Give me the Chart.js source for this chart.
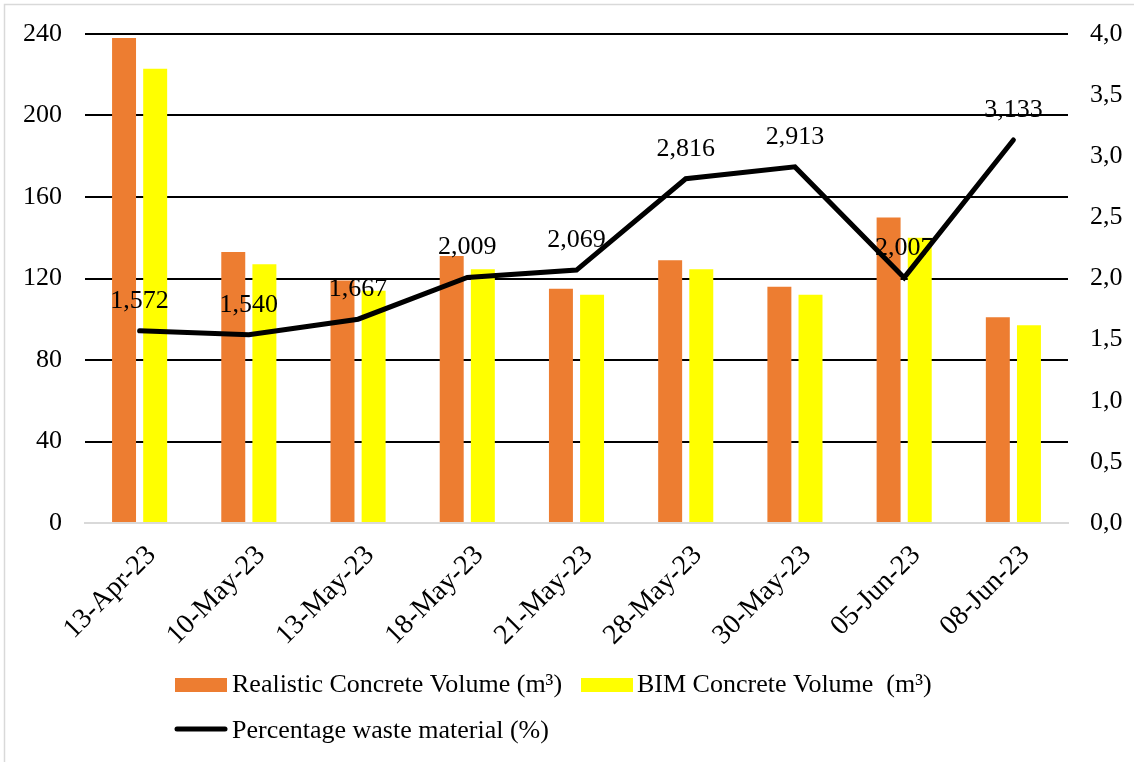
<!DOCTYPE html>
<html>
<head>
<meta charset="utf-8">
<script src="https://cdn.jsdelivr.net/npm/chart.js@4/dist/chart.umd.min.js"></script>
<style>
  html, body { margin: 0; padding: 0; background: #fff; }
  #wrap { width: 1134px; height: 762px; }
</style>
</head>
<body>
<div id="wrap"><canvas id="chart" width="1134" height="762"></canvas></div>
<script>
// data
const dates = ['13-Apr-23', '10-May-23', '13-May-23', '18-May-23', '21-May-23', '28-May-23', '30-May-23', '05-Jun-23', '08-Jun-23'];
const realVolume = [238, 133, 119, 131, 115, 129, 116, 150, 101];
const bimVolume = [223, 127, 114, 124.5, 112, 124.5, 112, 140, 97];
const wastePct = [1.572, 1.540, 1.667, 2.009, 2.069, 2.816, 2.913, 2.007, 3.133];
const leftTicks = [0, 40, 80, 120, 160, 200, 240];
const rightTicks = [0, 0.5, 1, 1.5, 2, 2.5, 3, 3.5, 4];

const FONT = "'Liberation Serif', 'Times New Roman', serif";
Chart.defaults.font.family = FONT;
Chart.defaults.font.size = 26;
Chart.defaults.color = '#000';

const comma = (v, d) => v.toFixed(d).replace('.', ',');

// light frame on the top and left edges, like the cropped original
const framePlugin = {
    id: 'frame',
    beforeDraw(chart) {
        let ctx = chart.ctx;
        ctx.save();
        ctx.fillStyle = '#fff';
        ctx.fillRect(0, 0, chart.width, chart.height);
        ctx.strokeStyle = '#d9d9d9';
        ctx.lineWidth = 1.5;
        ctx.beginPath();
        ctx.moveTo(4.5, chart.height);
        ctx.lineTo(4.5, 4.5);
        ctx.lineTo(chart.width, 4.5);
        ctx.stroke();
        ctx.restore();
    }
};

// value labels above the line points
const pointLabels = {
    id: 'pointLabels',
    afterDatasetsDraw(chart) {
        let ctx = chart.ctx;
        let meta = chart.getDatasetMeta(0);
        ctx.save();
        ctx.font = '26px ' + FONT;
        ctx.fillStyle = '#000';
        ctx.textAlign = 'center';
        ctx.textBaseline = 'alphabetic';
        meta.data.forEach((pt, i) => {
            ctx.fillText(comma(wastePct[i], 3), pt.x, pt.y - 23);
        });
        ctx.restore();
    }
};

// legend in two left aligned rows
const legendRows = {
    id: 'legendRows',
    afterDraw(chart) {
        let ctx = chart.ctx;
        let ds = chart.data.datasets;
        ctx.save();
        ctx.font = '26px ' + FONT;
        ctx.fillStyle = '#000';
        ctx.textAlign = 'left';
        ctx.textBaseline = 'alphabetic';

        ctx.fillStyle = ds[1].backgroundColor;
        ctx.fillRect(175, 678, 52, 14);
        ctx.fillStyle = '#000';
        ctx.fillText(ds[1].label, 232, 692);

        ctx.fillStyle = ds[2].backgroundColor;
        ctx.fillRect(581, 678, 52, 14);
        ctx.fillStyle = '#000';
        ctx.fillText(ds[2].label, 637, 692);

        ctx.strokeStyle = ds[0].borderColor;
        ctx.lineWidth = 5;
        ctx.lineCap = 'round';
        ctx.beginPath();
        ctx.moveTo(177, 729);
        ctx.lineTo(225, 729);
        ctx.stroke();
        ctx.fillText(ds[0].label, 232, 738);
        ctx.restore();
    }
};

// fixed axis sizes so the plot area sits where the original has it
const fixVertical = (w) => (s) => {
    s.width = w;
    s.paddingTop = 0;
    s.paddingBottom = 0;
};

new Chart(document.getElementById('chart'), {
    type: 'bar',
    data: {
        labels: dates,
        datasets: [
            {
                type: 'line',
                label: 'Percentage waste material (%)',
                data: wastePct,
                yAxisID: 'y1',
                borderColor: '#000',
                borderWidth: 5,
                borderCapStyle: 'round',
                pointRadius: 0,
                tension: 0,
                order: 0
            },
            {
                label: 'Realistic Concrete Volume (m³)',
                data: realVolume,
                yAxisID: 'y',
                backgroundColor: '#ED7D31',
                categoryPercentage: 0.57,
                barPercentage: 0.77,
                order: 1
            },
            {
                label: 'BIM Concrete Volume  (m³)',
                data: bimVolume,
                yAxisID: 'y',
                backgroundColor: '#FFFF00',
                categoryPercentage: 0.57,
                barPercentage: 0.77,
                order: 1
            }
        ]
    },
    options: {
        responsive: false,
        animation: false,
        devicePixelRatio: 1,
        layout: { padding: { left: 0, right: 0, top: 34, bottom: 0 } },
        plugins: {
            legend: { display: false },
            tooltip: { enabled: false }
        },
        scales: {
            x: {
                grid: { display: false },
                border: { color: '#d9d9d9', width: 2 },
                ticks: { autoSkip: false, minRotation: 45, maxRotation: 45, padding: 8, labelOffset: 12, font: { size: 28 } },
                afterFit: (s) => { s.height = 239; s.paddingLeft = 0; s.paddingRight = 0; }
            },
            y: {
                position: 'left',
                min: 0,
                max: 240,
                afterBuildTicks: (s) => { s.ticks = leftTicks.map(v => ({ value: v })); },
                grid: {
                    drawTicks: false,
                    lineWidth: 2,
                    color: (c) => c.tick && c.tick.value === 0 ? '#d9d9d9' : '#000'
                },
                border: { display: false },
                ticks: { padding: 23 },
                afterFit: fixVertical(85)
            },
            y1: {
                position: 'right',
                min: 0,
                max: 4,
                afterBuildTicks: (s) => { s.ticks = rightTicks.map(v => ({ value: v })); },
                grid: { display: false, drawTicks: false },
                border: { display: false },
                ticks: { padding: 22, callback: (v) => comma(v, 1) },
                afterFit: fixVertical(66)
            }
        }
    },
    plugins: [framePlugin, pointLabels, legendRows]
});
</script>
</body>
</html>
